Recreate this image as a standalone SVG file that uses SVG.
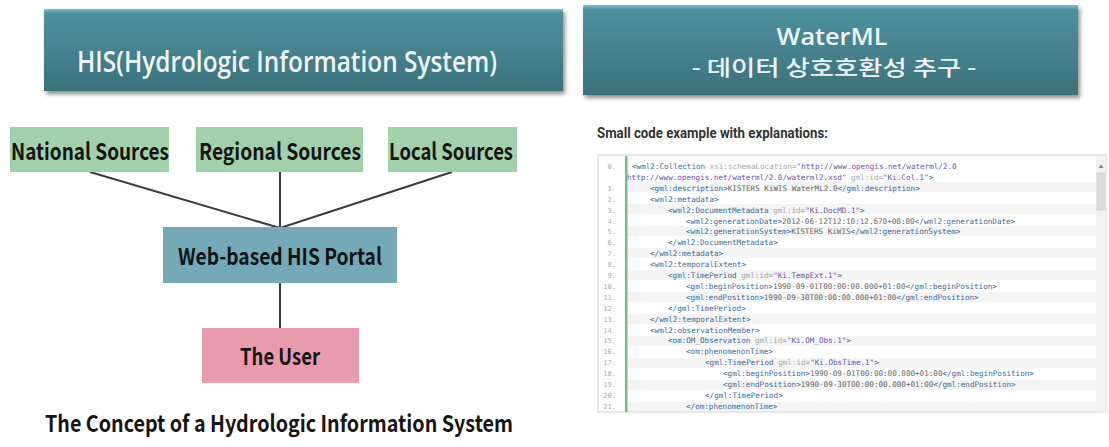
<svg xmlns="http://www.w3.org/2000/svg" width="1109" height="447" viewBox="0 0 1109 447">
<defs>
<linearGradient id="hdr" x1="0" y1="0" x2="0" y2="1">
<stop offset="0" stop-color="#7cc0cc"/>
<stop offset="0.05" stop-color="#4f919e"/>
<stop offset="0.6" stop-color="#447f8b"/>
<stop offset="1" stop-color="#3a707b"/>
</linearGradient>
<filter id="sh" x="-5%" y="-10%" width="110%" height="130%">
<feDropShadow dx="2" dy="3" stdDeviation="2" flood-color="#000" flood-opacity="0.45"/>
</filter>
<style>
.hdr{fill:url(#hdr);filter:url(#sh)}
.hdrt{font-family:"Open Sans","Noto Sans CJK KR",sans-serif;font-weight:600;fill:#eef4f4;text-anchor:middle}
.hdrk{font-family:"Noto Sans CJK KR",sans-serif;font-weight:500;fill:#eef4f4;text-anchor:middle}
.nt{font-family:"Noto Sans CJK KR","Noto Sans",sans-serif;font-weight:bold;fill:#141414;text-anchor:middle}
.src{fill:#a2d0ab}
.edge{stroke:#3c3c3c;stroke-width:2;fill:none}
.code{font-family:"DejaVu Sans Mono",monospace;font-size:7.6px;fill:#555}
.ln{font-family:"DejaVu Sans Mono",monospace;font-size:7px;fill:#aaa;text-anchor:end}
.t{fill:#3b6a9a}
.a{fill:#a8a8a8}
.v{fill:#6a55a8}
.x{fill:#666}
.stripe{fill:#f4f4f4}
</style>
</defs>
<rect width="1109" height="447" fill="#ffffff"/>

<g id="header-his">
<rect class="hdr" x="44" y="9" width="519" height="82"/>
<text class="hdrt" x="287" y="72" font-size="29" textLength="420" lengthAdjust="spacingAndGlyphs">HIS(Hydrologic Information System)</text>
</g>

<g id="header-waterml">
<rect class="hdr" x="583" y="5" width="495" height="90"/>
<text class="hdrt" x="832" y="45" font-size="24" textLength="111" lengthAdjust="spacingAndGlyphs">WaterML</text>
<text class="hdrk" x="834" y="75" font-size="21" textLength="285" lengthAdjust="spacingAndGlyphs">- 데이터 상호호환성 추구 -</text>
</g>

<g id="connectors">
<line class="edge" x1="90" y1="172" x2="280" y2="228"/>
<line class="edge" x1="280" y1="172" x2="280" y2="228"/>
<line class="edge" x1="452" y1="172" x2="280" y2="228"/>
<line class="edge" x1="280" y1="283" x2="280" y2="328"/>
</g>

<g id="national-sources">
<rect class="src" x="10" y="127" width="159" height="45"/>
<text class="nt" x="90" y="160" font-size="23" textLength="158" lengthAdjust="spacingAndGlyphs">National Sources</text>
</g>
<g id="regional-sources">
<rect class="src" x="196" y="127" width="167" height="45"/>
<text class="nt" x="280" y="160" font-size="23" textLength="162" lengthAdjust="spacingAndGlyphs">Regional Sources</text>
</g>
<g id="local-sources">
<rect class="src" x="388" y="127" width="129" height="45"/>
<text class="nt" x="451" y="160" font-size="23" textLength="124" lengthAdjust="spacingAndGlyphs">Local Sources</text>
</g>
<g id="portal">
<rect x="163" y="227" width="234" height="56" fill="#75a9b8"/>
<text class="nt" x="280" y="265" font-size="23" textLength="204" lengthAdjust="spacingAndGlyphs">Web-based HIS Portal</text>
</g>
<g id="user">
<rect x="202" y="328" width="157" height="55" fill="#e99aad"/>
<text class="nt" x="280" y="365" font-size="23" textLength="80" lengthAdjust="spacingAndGlyphs">The User</text>
</g>
<g id="caption">
<text class="nt" x="279" y="432" font-size="23" textLength="468" lengthAdjust="spacingAndGlyphs">The Concept of a Hydrologic Information System</text>
</g>

<g id="code-title">
<text x="597" y="138" font-family="Roboto,'Liberation Sans',sans-serif" font-weight="bold" font-size="14" fill="#333" textLength="231" lengthAdjust="spacingAndGlyphs">Small code example with explanations:</text>
</g>

<g id="code-example">
<rect x="598" y="155" width="508" height="257" fill="#fff" stroke="#cfcfcf" stroke-width="1"/>
<rect class="stripe" x="628" y="182" width="468" height="10"/>
<rect class="stripe" x="628" y="204" width="468" height="10"/>
<rect class="stripe" x="628" y="226" width="468" height="10"/>
<rect class="stripe" x="628" y="248" width="468" height="10"/>
<rect class="stripe" x="628" y="270" width="468" height="10"/>
<rect class="stripe" x="628" y="292" width="468" height="10"/>
<rect class="stripe" x="628" y="314" width="468" height="10"/>
<rect class="stripe" x="628" y="336" width="468" height="10"/>
<rect class="stripe" x="628" y="358" width="468" height="10"/>
<rect class="stripe" x="628" y="380" width="468" height="10"/>
<rect class="stripe" x="628" y="402" width="468" height="9"/>
<rect x="625" y="156" width="2.5" height="256" fill="#6fc27a"/>
<rect x="1096" y="156" width="10" height="256" fill="#f1f1f1"/>
<rect x="1097" y="173" width="8" height="37" fill="#dcdcdc" stroke="#c4c4c4" stroke-width="0.5"/>
<path d="M1098.5 168 L1101 164.5 L1103.5 168 Z" fill="#888"/>
<g class="ln">
<text x="616" y="169">0.</text>
<text x="616" y="190.8">1.</text>
<text x="616" y="201.7">2.</text>
<text x="616" y="212.6">3.</text>
<text x="616" y="223.5">4.</text>
<text x="616" y="234.4">5.</text>
<text x="616" y="245.3">6.</text>
<text x="616" y="256.2">7.</text>
<text x="616" y="267.1">8.</text>
<text x="616" y="278">9.</text>
<text x="616" y="288.9">10.</text>
<text x="616" y="299.8">11.</text>
<text x="616" y="310.7">12.</text>
<text x="616" y="321.6">13.</text>
<text x="616" y="332.5">14.</text>
<text x="616" y="343.4">15.</text>
<text x="616" y="354.3">16.</text>
<text x="616" y="365.2">17.</text>
<text x="616" y="376.1">18.</text>
<text x="616" y="387">19.</text>
<text x="616" y="397.9">20.</text>
<text x="616" y="408.8">21.</text>
</g>
<g class="code">
<text x="632" y="169"><tspan class="t">&lt;wml2:Collection</tspan> <tspan class="a">xsi:schemaLocation=</tspan><tspan class="v">"http://www.opengis.net/waterml/2.0</tspan></text>
<text x="627" y="179.9"><tspan class="v">http://www.opengis.net/waterml/2.0/waterml2.xsd"</tspan> <tspan class="a">gml:id=</tspan><tspan class="v">"Ki.Col.1"</tspan><tspan class="t">&gt;</tspan></text>
<text x="650" y="190.8"><tspan class="t">&lt;gml:description&gt;</tspan><tspan class="x">KISTERS KiWIS WaterML2.0</tspan><tspan class="t">&lt;/gml:description&gt;</tspan></text>
<text x="650" y="201.7"><tspan class="t">&lt;wml2:metadata&gt;</tspan></text>
<text x="668" y="212.6"><tspan class="t">&lt;wml2:DocumentMetadata</tspan> <tspan class="a">gml:id=</tspan><tspan class="v">"Ki.DocMD.1"</tspan><tspan class="t">&gt;</tspan></text>
<text x="686" y="223.5"><tspan class="t">&lt;wml2:generationDate&gt;</tspan><tspan class="x">2012-06-12T12:10:12.670+00:00</tspan><tspan class="t">&lt;/wml2:generationDate&gt;</tspan></text>
<text x="686" y="234.4"><tspan class="t">&lt;wml2:generationSystem&gt;</tspan><tspan class="x">KISTERS KiWIS</tspan><tspan class="t">&lt;/wml2:generationSystem&gt;</tspan></text>
<text x="668" y="245.3"><tspan class="t">&lt;/wml2:DocumentMetadata&gt;</tspan></text>
<text x="650" y="256.2"><tspan class="t">&lt;/wml2:metadata&gt;</tspan></text>
<text x="650" y="267.1"><tspan class="t">&lt;wml2:temporalExtent&gt;</tspan></text>
<text x="668" y="278"><tspan class="t">&lt;gml:TimePeriod</tspan> <tspan class="a">gml:id=</tspan><tspan class="v">"Ki.TempExt.1"</tspan><tspan class="t">&gt;</tspan></text>
<text x="686" y="288.9"><tspan class="t">&lt;gml:beginPosition&gt;</tspan><tspan class="x">1990-09-01T00:00:00.000+01:00</tspan><tspan class="t">&lt;/gml:beginPosition&gt;</tspan></text>
<text x="686" y="299.8"><tspan class="t">&lt;gml:endPosition&gt;</tspan><tspan class="x">1990-09-30T00:00:00.000+01:00</tspan><tspan class="t">&lt;/gml:endPosition&gt;</tspan></text>
<text x="668" y="310.7"><tspan class="t">&lt;/gml:TimePeriod&gt;</tspan></text>
<text x="650" y="321.6"><tspan class="t">&lt;/wml2:temporalExtent&gt;</tspan></text>
<text x="650" y="332.5"><tspan class="t">&lt;wml2:observationMember&gt;</tspan></text>
<text x="668" y="343.4"><tspan class="t">&lt;om:OM_Observation</tspan> <tspan class="a">gml:id=</tspan><tspan class="v">"Ki.OM_Obs.1"</tspan><tspan class="t">&gt;</tspan></text>
<text x="686" y="354.3"><tspan class="t">&lt;om:phenomenonTime&gt;</tspan></text>
<text x="705" y="365.2"><tspan class="t">&lt;gml:TimePeriod</tspan> <tspan class="a">gml:id=</tspan><tspan class="v">"Ki.ObsTime.1"</tspan><tspan class="t">&gt;</tspan></text>
<text x="723" y="376.1"><tspan class="t">&lt;gml:beginPosition&gt;</tspan><tspan class="x">1990-09-01T00:00:00.000+01:00</tspan><tspan class="t">&lt;/gml:beginPosition&gt;</tspan></text>
<text x="723" y="387"><tspan class="t">&lt;gml:endPosition&gt;</tspan><tspan class="x">1990-09-30T00:00:00.000+01:00</tspan><tspan class="t">&lt;/gml:endPosition&gt;</tspan></text>
<text x="705" y="397.9"><tspan class="t">&lt;/gml:TimePeriod&gt;</tspan></text>
<text x="686" y="408.8"><tspan class="t">&lt;/om:phenomenonTime&gt;</tspan></text>
</g>
</g>
</svg>
